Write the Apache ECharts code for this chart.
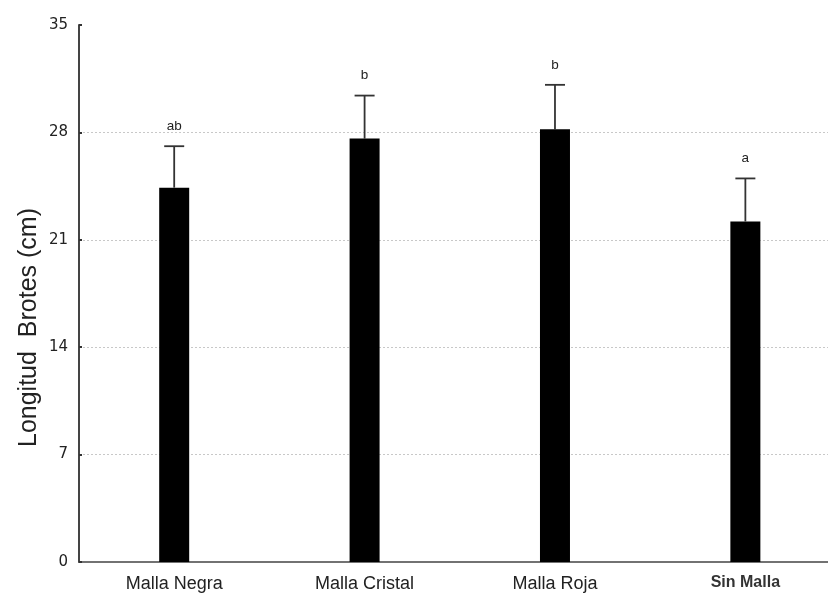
<!DOCTYPE html>
<html><head><meta charset="utf-8">
<script src="https://cdn.jsdelivr.net/npm/echarts@6/dist/echarts.min.js"></script>
<style>html,body{margin:0;padding:0;background:#fff}#c{width:828px;height:593px}</style>
</head><body><div id="c"></div>
<script>
const categories = ['Malla Negra', 'Malla Cristal', 'Malla Roja', 'Sin Malla'];
const means = [24.4, 27.6, 28.2, 22.2];
const errUpper = [27.1, 30.4, 31.1, 25.0];
const letters = ['ab', 'b', 'b', 'a'];
const yTicks = [0, 7, 14, 21, 28, 35];

const chart = echarts.init(document.getElementById('c'), null, {renderer: 'canvas'});
const catIdx = categories.map((c, i) => i);
const barData = categories.map((c, i) => [i, means[i]]);
const errData = categories.map((c, i) => [i, means[i], errUpper[i]]);
chart.setOption({
  animation: false,
  grid: {left: 79, right: 0, top: 25, bottom: 31, containLabel: false},
  xAxis: {
    type: 'value', min: -0.5, max: 3.434,
    axisLine: {show: true, onZero: false, lineStyle: {color: '#444', width: 1.5}},
    axisTick: {show: false},
    splitLine: {show: false},
    axisLabel: {
      customValues: catIdx, showMinLabel: true, showMaxLabel: true,
      color: '#222', fontFamily: 'Liberation Sans, Arial', fontSize: 18, margin: 13,
      formatter: v => {
        const n = categories[Math.round(v)];
        return n === 'Sin Malla' ? '{s|' + n + '}' : n;
      },
      rich: {s: {fontSize: 16, fontWeight: 'bold', color: '#333', fontFamily: 'Liberation Sans, Arial'}}
    }
  },
  yAxis: {
    type: 'value', min: yTicks[0], max: yTicks[yTicks.length - 1], interval: 7,
    name: 'Longitud  Brotes (cm)', nameLocation: 'middle', nameGap: 37, nameMoveOverlap: false,
    nameTextStyle: {fontSize: 25, color: '#222', fontFamily: 'Liberation Sans, Arial', padding: [0, 68, 0, 0]},
    axisLine: {show: true, onZero: false, lineStyle: {color: '#444', width: 2}},
    axisTick: {show: true, inside: true, length: 3, lineStyle: {color: '#333', width: 2}},
    axisLabel: {color: '#222', fontSize: 15, fontFamily: 'DejaVu Sans', margin: 11},
    splitLine: {show: true, showMaxLine: false, showMinLine: false, lineStyle: {color: '#c8c8c8', type: [2, 2], width: 1}}
  },
  series: [
    {
      type: 'bar', data: barData, barWidth: 30,
      itemStyle: {color: '#000'}, z: 3
    },
    {
      type: 'custom', data: errData, z: 2,
      renderItem: (params, api) => {
        const x = api.coord([api.value(0), 0])[0];
        const yb = api.coord([0, api.value(1)])[1];
        const yt = api.coord([0, api.value(2)])[1];
        const hw = 10;
        return {
          type: 'group',
          children: [
            {type: 'line', shape: {x1: x, y1: yb, x2: x, y2: yt}, style: {stroke: '#333', lineWidth: 1.8}},
            {type: 'line', shape: {x1: x - hw, y1: yt, x2: x + hw, y2: yt}, style: {stroke: '#333', lineWidth: 1.8}},
            {type: 'text', style: {text: letters[params.dataIndex], x: x, y: yt - 13, align: 'center', verticalAlign: 'bottom',
              fontSize: 13.5, fill: '#222', fontFamily: 'Liberation Sans, Arial'}}
          ]
        };
      }
    }
  ]
});
</script></body></html>
